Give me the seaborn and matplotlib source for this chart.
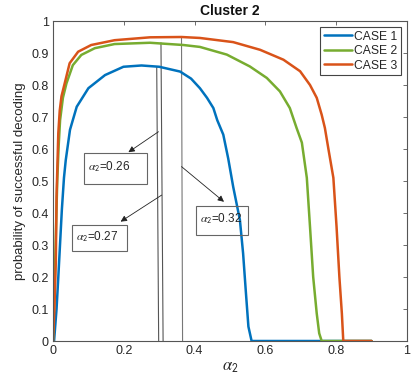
import matplotlib
matplotlib.use("Agg")
import matplotlib.pyplot as plt
from matplotlib.patches import Rectangle
import pandas as pd
import seaborn as sns

# ---------------- data ----------------
case1_x = [0, 0.003, 0.01, 0.015, 0.02, 0.025, 0.031, 0.036, 0.048, 0.067, 0.1, 0.147,
           0.199, 0.25, 0.3, 0.359, 0.39, 0.415, 0.435, 0.453, 0.464, 0.481, 0.495,
           0.509, 0.528, 0.537, 0.545, 0.552, 0.561, 0.9]
case1_y = [0, 0, 0.1, 0.2, 0.305, 0.41, 0.51, 0.565, 0.66, 0.732, 0.79, 0.831,
           0.857, 0.861, 0.857, 0.842, 0.82, 0.79, 0.76, 0.728, 0.69, 0.645, 0.57,
           0.482, 0.378, 0.274, 0.15, 0.045, 0, 0]

case2_x = [0, 0.004, 0.008, 0.012, 0.016, 0.02, 0.028, 0.038, 0.056, 0.08, 0.118, 0.174,
           0.274, 0.368, 0.415, 0.491, 0.556, 0.604, 0.641, 0.669, 0.688, 0.703, 0.717,
           0.726, 0.735, 0.745, 0.752, 0.759, 0.9]
case2_y = [0, 0.15, 0.33, 0.5, 0.61, 0.69, 0.76, 0.805, 0.862, 0.894, 0.915, 0.928,
           0.932, 0.925, 0.919, 0.895, 0.858, 0.822, 0.78, 0.728, 0.666, 0.62, 0.51,
           0.357, 0.2, 0.086, 0.024, 0, 0]

case3_x = [0, 0.004, 0.008, 0.01, 0.013, 0.015, 0.019, 0.024, 0.033, 0.047, 0.071, 0.108,
           0.174, 0.274, 0.363, 0.415, 0.509, 0.585, 0.651, 0.698, 0.726, 0.745, 0.759,
           0.768, 0.778, 0.792, 0.801, 0.809, 0.816, 0.82, 0.9]
case3_y = [0, 0.1, 0.25, 0.45, 0.57, 0.65, 0.72, 0.765, 0.805, 0.868, 0.904, 0.925,
           0.94, 0.949, 0.95, 0.947, 0.934, 0.91, 0.879, 0.843, 0.80, 0.76, 0.707,
           0.666, 0.60, 0.51, 0.357, 0.2, 0.086, 0, 0]

case_names = ["CASE 1", "CASE 2", "CASE 3"]
case_colors = ["#0072BD", "#77AC30", "#D95319"]

# marker lines (top point on curve, bottom point on axis)
vline_top_x = [0.293, 0.305, 0.363]
vline_top_y = [0.857, 0.932, 0.950]
vline_bot_x = [0.2985, 0.311, 0.366]
vline_colors = ["#555555", "#555555", "#777777"]

# annotations: label, arrow start, arrow end, box (x0, y0, x1, y1)
ann_labels = [r"$\alpha_{\mathsf{2}}$=0.26", r"$\alpha_{\mathsf{2}}$=0.27", r"$\alpha_{\mathsf{2}}$=0.32"]
ann_start = [(0.298, 0.654), (0.307, 0.456), (0.363, 0.545)]
ann_end = [(0.213, 0.590), (0.191, 0.373), (0.483, 0.435)]
ann_box = [(0.088, 0.490, 0.265, 0.587), (0.053, 0.280, 0.210, 0.362), (0.403, 0.332, 0.552, 0.422)]

x_ticks = [0, 0.2, 0.4, 0.6, 0.8, 1]
x_ticklabels = ["0", "0.2", "0.4", "0.6", "0.8", "1"]
y_ticks = [0, 0.1, 0.2, 0.3, 0.4, 0.5, 0.6, 0.7, 0.8, 0.9, 1]
y_ticklabels = ["0", "0.1", "0.2", "0.3", "0.4", "0.5", "0.6", "0.7", "0.8", "0.9", "1"]

# ---------------- style ----------------
sns.set_style("white")
plt.rcParams["font.family"] = ["Liberation Sans", "DejaVu Sans"]
plt.rcParams["mathtext.fontset"] = "stix"

frames = []
for name, xs, ys in zip(case_names, [case1_x, case2_x, case3_x], [case1_y, case2_y, case3_y]):
    frames.append(pd.DataFrame({"x": xs, "y": ys, "case": name}))
df = pd.concat(frames, ignore_index=True)

fig = plt.figure(figsize=(4.11, 3.87), dpi=100)
ax = fig.add_axes([53 / 411, 46 / 387, 354 / 411, 320 / 387])

sns.lineplot(data=df, x="x", y="y", hue="case", hue_order=case_names,
             palette=case_colors, sort=False, estimator=None, linewidth=1.8, ax=ax)
for ln in ax.get_lines():
    ln.set_solid_joinstyle("round")

for tx, ty, bx, c in zip(vline_top_x, vline_top_y, vline_bot_x, vline_colors):
    ax.plot([tx, bx], [ty, 0], color=c, lw=0.8, zorder=1)

for lab, s, e, b in zip(ann_labels, ann_start, ann_end, ann_box):
    ax.annotate("", xy=e, xytext=s,
                arrowprops=dict(arrowstyle="-|>", color="#222222", lw=0.6,
                                mutation_scale=9, shrinkA=0, shrinkB=0))
    ax.add_patch(Rectangle((b[0], b[1]), b[2] - b[0], b[3] - b[1], fill=False,
                           edgecolor="#666666", lw=0.8, zorder=3))
    ax.text(b[0] + 0.012, (b[1] + b[3]) / 2 + 0.005, lab, fontsize=8.5, color="#262626",
            ha="left", va="center", zorder=4)

ax.set_xlim(0, 1)
ax.set_ylim(0, 1)
ax.set_xticks(x_ticks)
ax.set_xticklabels(x_ticklabels)
ax.set_yticks(y_ticks)
ax.set_yticklabels(y_ticklabels)
ax.tick_params(direction="in", length=3, width=0.6, top=True, right=True,
               labelsize=9, colors="#262626", pad=3, color="#555555")
for sp in ax.spines.values():
    sp.set_visible(True)
    sp.set_color("#555555")
    sp.set_linewidth(0.8)

ax.set_title("Cluster 2", fontsize=10, fontweight="bold", color="#111111", pad=4)
ax.set_ylabel("probability of successful decoding", fontsize=9.5, color="#262626", labelpad=4)
ax.set_xlabel(r"$\alpha_{\mathsf{2}}$", fontsize=12, color="#262626", labelpad=2)

handles, labels = ax.get_legend_handles_labels()
leg = ax.legend(handles, labels, loc="upper right", fontsize=8.7, frameon=True,
                fancybox=False, edgecolor="#444444", framealpha=1,
                handlelength=2.3, handletextpad=0.2, borderpad=0.3,
                labelspacing=0.2, borderaxespad=0.5)
leg.get_frame().set_linewidth(0.8)
for t in leg.get_texts():
    t.set_color("#262626")

fig.savefig("out.png", dpi=100)
